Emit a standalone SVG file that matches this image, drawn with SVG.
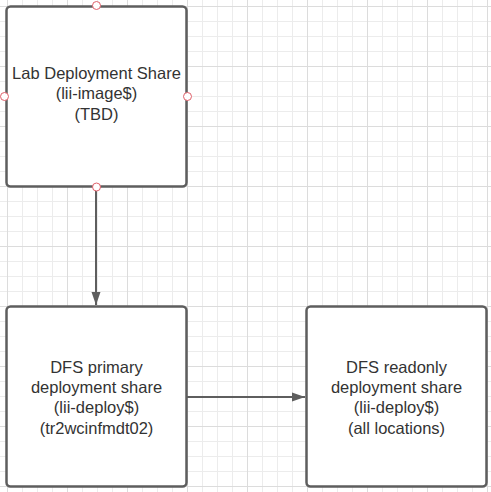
<svg xmlns="http://www.w3.org/2000/svg" width="491" height="492" viewBox="0 0 491 492">
<defs>
<pattern id="grid" patternUnits="userSpaceOnUse" x="7" y="6" width="60" height="60">
<rect x="15" y="0" width="1" height="60" fill="#ececec"/>
<rect x="30" y="0" width="1" height="60" fill="#ececec"/>
<rect x="45" y="0" width="1" height="60" fill="#ececec"/>
<rect x="0" y="15" width="60" height="1" fill="#ececec"/>
<rect x="0" y="30" width="60" height="1" fill="#ececec"/>
<rect x="0" y="45" width="60" height="1" fill="#ececec"/>
<rect x="0" y="0" width="1" height="60" fill="#dcdcdc"/>
<rect x="0" y="0" width="60" height="1" fill="#dcdcdc"/>
</pattern>
<marker id="arrow" viewBox="0 0 14 10" refX="13" refY="5" markerWidth="14" markerHeight="10" markerUnits="userSpaceOnUse" orient="auto">
<path d="M0,0.5 L13,5 L0,9.5 Z" fill="#5e5e5e"/>
</marker>
</defs>
<style>
.box{fill:#ffffff;stroke:#5e5e5e;stroke-width:2.5}
.lbl{font-family:"Liberation Sans",Arial,sans-serif;font-size:16.5px;fill:#333333;text-anchor:middle}
.edge{stroke:#5e5e5e;stroke-width:2;fill:none}
.port{fill:#ffffff;stroke:#e0606a;stroke-width:1}
</style>
<rect x="0" y="0" width="491" height="492" fill="#ffffff"/>
<rect x="0" y="0" width="491" height="492" fill="url(#grid)"/>
<g id="connectors">
<line class="edge" x1="96" y1="188" x2="96" y2="305" marker-end="url(#arrow)"/>
<line class="edge" x1="187" y1="397" x2="305" y2="397" marker-end="url(#arrow)"/>
</g>
<g id="node-lab">
<rect class="box" x="6.5" y="6.5" width="180" height="180" rx="4"/>
<text class="lbl" x="96.5" y="78.5">Lab Deployment Share</text>
<text class="lbl" x="96.5" y="99">(lii-image$)</text>
<text class="lbl" x="96.5" y="119.5">(TBD)</text>
<circle class="port" cx="96.5" cy="5.5" r="4"/>
<circle class="port" cx="4.5" cy="96.5" r="4"/>
<circle class="port" cx="187.5" cy="96.5" r="4"/>
<circle class="port" cx="96.5" cy="187" r="4"/>
</g>
<g id="node-primary">
<rect class="box" x="6.5" y="306.5" width="180" height="180" rx="4"/>
<text class="lbl" x="96.5" y="373">DFS primary</text>
<text class="lbl" x="96.5" y="393">deployment share</text>
<text class="lbl" x="96.5" y="413.3">(lii-deploy$)</text>
<text class="lbl" x="96.5" y="433.5">(tr2wcinfmdt02)</text>
</g>
<g id="node-readonly">
<rect class="box" x="306.5" y="306.5" width="180" height="180" rx="4"/>
<text class="lbl" x="396.5" y="373">DFS readonly</text>
<text class="lbl" x="396.5" y="393">deployment share</text>
<text class="lbl" x="396.5" y="413.3">(lii-deploy$)</text>
<text class="lbl" x="396.5" y="433.5">(all locations)</text>
</g>
</svg>
